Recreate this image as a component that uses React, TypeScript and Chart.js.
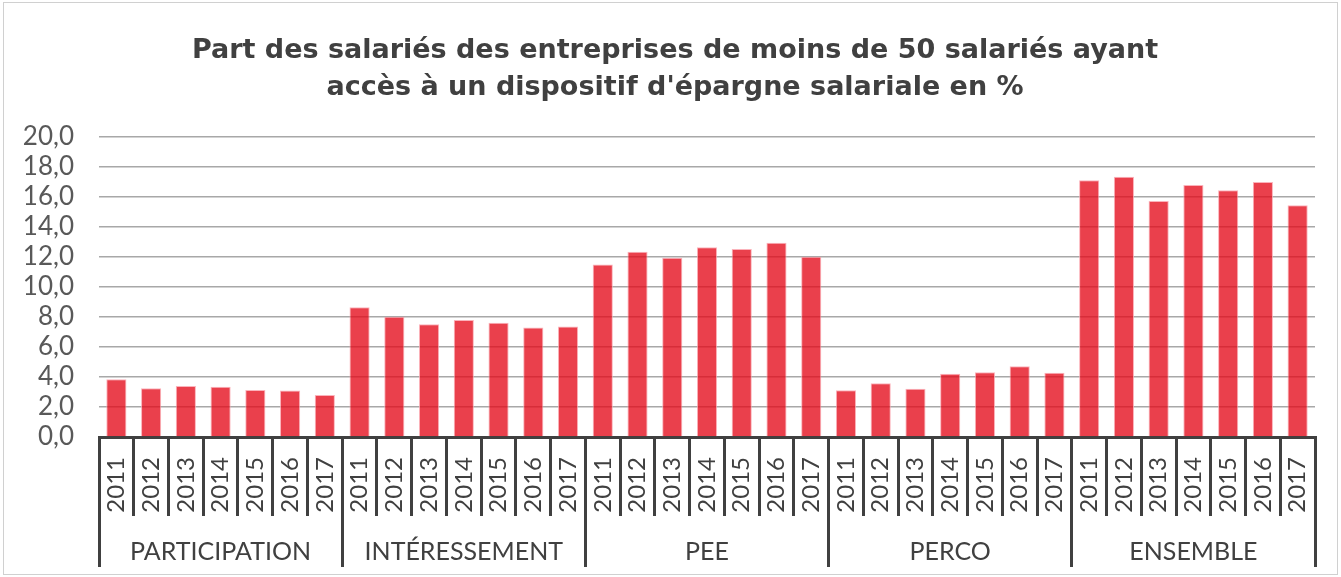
import React, { useEffect, useRef } from 'react';
import { Chart, registerables } from 'chart.js';

Chart.register(...registerables);

const titleLines = [
  'Part des salariés des entreprises de moins de 50 salariés ayant',
  "accès à un dispositif d'épargne salariale en %",
];
const groups = ['PARTICIPATION', 'INTÉRESSEMENT', 'PEE', 'PERCO', 'ENSEMBLE'];
const years = ['2011', '2012', '2013', '2014', '2015', '2016', '2017'];
const participation = [3.85, 3.25, 3.4, 3.35, 3.13, 3.1, 2.8];
const interessement = [8.65, 8.02, 7.51, 7.8, 7.62, 7.29, 7.36];
const pee = [11.49, 12.35, 11.95, 12.64, 12.53, 12.95, 12.02];
const perco = [3.11, 3.58, 3.22, 4.22, 4.31, 4.71, 4.29];
const ensemble = [17.11, 17.35, 15.73, 16.8, 16.44, 17.0, 15.45];
const yMin = 0;
const yMax = 20;
const yStep = 2;

const FONT = "Lato, 'DejaVu Sans', sans-serif";
const TITLE_FONT = "'DejaVu Sans', Lato, sans-serif";

export default function App() {
  const ref = useRef<HTMLCanvasElement | null>(null);

  useEffect(() => {
    document.body.style.margin = '0';
    const canvas = ref.current;
    if (!canvas) return;
    const labels = groups.flatMap(() => years);
    const values = [...participation, ...interessement, ...pee, ...perco, ...ensemble];
    const chart = new Chart(canvas, {
      type: 'bar',
      data: {
        labels,
        datasets: [
          {
            data: values,
            backgroundColor: 'rgba(228, 10, 25, 0.78)',
            borderColor: 'rgba(250, 160, 170, 0.8)',
            borderWidth: 1,
            barPercentage: 0.58,
            categoryPercentage: 1,
            xAxisID: 'x',
            yAxisID: 'y',
          },
        ],
      },
      options: {
        animation: false,
        responsive: false,
        maintainAspectRatio: false,
        devicePixelRatio: 1,
        layout: { padding: { top: 0, left: 9, right: 0, bottom: 7 } },
        plugins: {
          legend: { display: false },
          tooltip: { enabled: false },
          title: {
            display: true,
            text: titleLines,
            color: '#404040',
            font: { family: TITLE_FONT, size: 27, weight: 'bold', lineHeight: 1.35 },
            padding: { top: 30, bottom: 31 },
          },
        },
        scales: {
          y: {
            min: yMin,
            max: yMax,
            ticks: {
              stepSize: yStep,
              autoSkip: false,
              color: '#595959',
              font: { family: FONT, size: 26, lineHeight: 1 },
              padding: 25,
              callback: (v: any) => Number(v).toFixed(1).replace('.', ','),
            },
            grid: { color: '#a8a8a8', lineWidth: 1.5, drawTicks: false },
            border: { display: false },
            afterFit: (s: any) => {
              s.width = 86;
            },
          },
          yRight: {
            position: 'right',
            display: true,
            min: yMin,
            max: yMax,
            grid: { display: false, drawOnChartArea: false },
            ticks: { display: false },
            border: { display: false },
            afterFit: (s: any) => {
              s.width = 22;
            },
          },
          x: {
            type: 'category',
            position: 'bottom',
            offset: true,
            grid: {
              offset: true,
              drawOnChartArea: false,
              tickLength: 79,
              color: '#404040',
              lineWidth: 3,
            },
            border: { display: true, color: '#404040', width: 3 },
            ticks: {
              minRotation: 90,
              maxRotation: 90,
              autoSkip: false,
              color: '#404040',
              font: { family: FONT, size: 24 },
              padding: -59,
            },
            afterFit: (s: any) => {
              s.height = 79;
            },
          },
          x2: {
            type: 'category',
            labels: groups,
            position: 'bottom',
            offset: true,
            grid: {
              offset: true,
              drawOnChartArea: false,
              tickLength: 51,
              color: '#404040',
              lineWidth: 3,
            },
            border: { display: false },
            ticks: {
              maxRotation: 0,
              autoSkip: false,
              color: '#404040',
              font: { family: FONT, size: 25 },
              padding: -30,
            },
            afterFit: (s: any) => {
              s.height = 51;
            },
          },
        },
      },
    } as any);
    return () => chart.destroy();
  }, []);

  return (
    <div
      style={{
        position: 'absolute',
        left: 3,
        top: 2,
        width: 1335,
        height: 573,
        boxSizing: 'border-box',
        border: '1px solid #d0d0d0',
        background: '#fff',
      }}
    >
      <canvas ref={ref} width={1333} height={571} style={{ display: 'block' }} />
    </div>
  );
}
